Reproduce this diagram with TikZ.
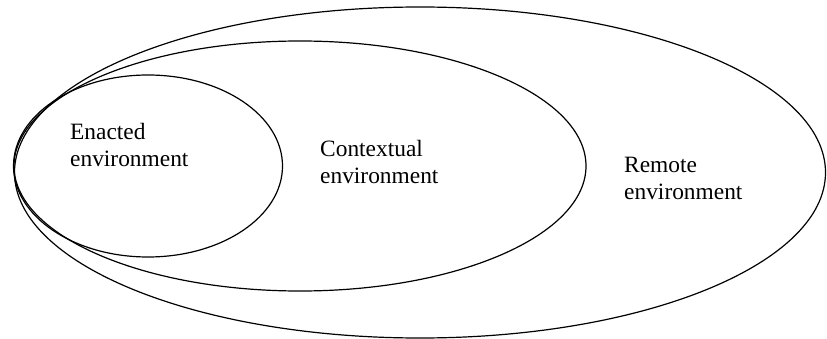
\documentclass[tikz,border=0pt]{standalone}
\usepackage{fontspec}
\setmainfont{Liberation Serif}
\begin{document}
\begin{tikzpicture}[x=1pt,y=-1pt,
  ring/.style={draw=black,line width=1.2pt},
  label/.style={anchor=base west,inner sep=0pt,align=left,
    font=\fontsize{23.4}{26.5}\selectfont}]
\useasboundingbox (0,0) rectangle (827,339);
\draw[ring] (420,172.5) ellipse [x radius=405.5, y radius=165.5];
\draw[ring] (300,166) ellipse [x radius=286, y radius=125];
\draw[ring] (148,166) ellipse [x radius=134.5, y radius=91];
\node[label] (enacted) at (70,166.5) {Enacted\\environment};
\node[label] (contextual) at (320,183.5) {Contextual\\environment};
\node[label] (remote) at (624,199.5) {Remote\\environment};
\end{tikzpicture}
\end{document}
